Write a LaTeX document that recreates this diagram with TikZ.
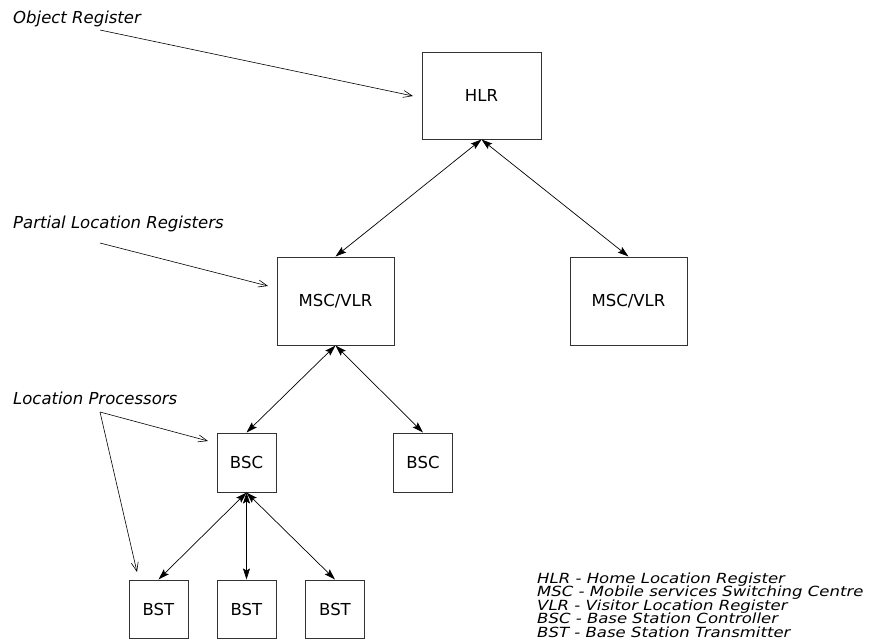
\documentclass[tikz,border=0pt]{standalone}
\usepackage{fontspec}
\setmainfont{DejaVu Sans}
\newfontfamily\legendfam[FakeStretch=1.18]{DejaVu Sans}
\usetikzlibrary{arrows.meta}
\newcommand\legendfont{\legendfam\fontsize{14}{13.5}\selectfont\itshape\lineskiplimit=-20pt\relax\lineskip=0pt\relax}
\begin{document}
\begin{tikzpicture}[x=1pt,y=-1pt,
  box/.style={draw=black!80,line width=1pt,inner sep=0pt,font=\fontsize{16.5}{18}\selectfont},
  link/.style={line width=0.7pt,{Stealth[length=11pt,width=7pt,inset=2pt]}-{Stealth[length=11pt,width=7pt,inset=2pt]}},
  note/.style={line width=0.6pt,-{Straight Barb[length=9pt,width=7pt]}},
  lab/.style={anchor=base west,inner sep=0pt,font=\fontsize{16.5}{18}\selectfont\itshape}]
\useasboundingbox (0,0) rectangle (871,641);
% boxes
\node[box,minimum width=119pt,minimum height=87pt] (hlr) at (481.5,95.5) {HLR};
\node[box,minimum width=117pt,minimum height=88pt] (msc1) at (335.5,301) {MSC/VLR};
\node[box,minimum width=117pt,minimum height=88pt] (msc2) at (628.5,301) {MSC/VLR};
\node[box,minimum width=59pt,minimum height=59pt] (bsc1) at (246.5,462.5) {BSC};
\node[box,minimum width=59pt,minimum height=59pt] (bsc2) at (423,462.5) {BSC};
\node[box,minimum width=59pt,minimum height=58pt] (bst1) at (158.5,609) {BST};
\node[box,minimum width=59pt,minimum height=58pt] (bst2) at (246.5,609) {BST};
\node[box,minimum width=59pt,minimum height=58pt] (bst3) at (335,609) {BST};
% links
\draw[link] (hlr.south) -- (msc1.north);
\draw[link] (hlr.south) -- (msc2.north);
\draw[link] (msc1.south) -- (bsc1.north);
\draw[link] (msc1.south) -- (bsc2.north);
\draw[link] (bsc1.south) -- (bst1.north);
\draw[link] (bsc1.south) -- (bst2.north);
\draw[link] (bsc1.south) -- (bst3.north);
% labels
\node[lab] (objreg) at (13,23) {Object Register};
\node[lab] (plr) at (13,228) {Partial Location Registers};
\node[lab] (lp) at (13,404) {Location Processors};
\coordinate (o1) at (100,30);
\coordinate (o2) at (413,96);
\coordinate (p1) at (100,243);
\coordinate (p2) at (268,286);
\coordinate (l1) at (100,412);
\coordinate (l2) at (208,441);
\coordinate (l3) at (137,572);
\draw[note] (o1) -- (o2);
\draw[note] (p1) -- (p2);
\draw[note] (l1) -- (l2);
\draw[note] (l1) -- (l3);
% legend
\node[anchor=south west,inner sep=0pt,align=left,font=\legendfont] (legend) at (537,637.8) {HLR - Home Location Register\\MSC - Mobile services Switching Centre\\VLR - Visitor Location Register\\BSC - Base Station Controller\\BST - Base Station Transmitter};
\end{tikzpicture}
\end{document}
